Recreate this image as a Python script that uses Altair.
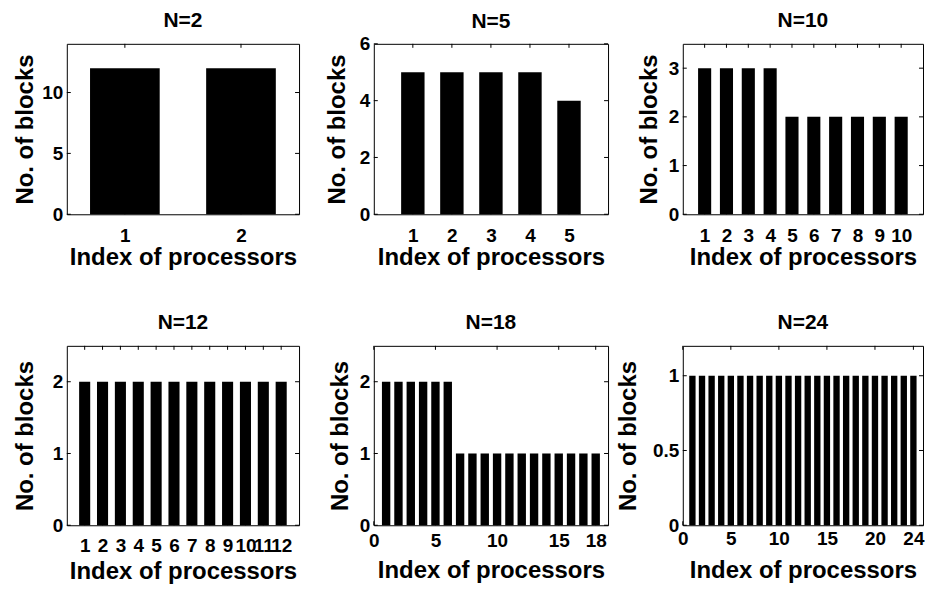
import altair as alt
import pandas as pd

# ---------------- data ----------------
panel_titles = ["N=2", "N=5", "N=10", "N=12", "N=18", "N=24"]

blocks_n2 = [12, 12]
blocks_n5 = [5, 5, 5, 5, 4]
blocks_n10 = [3, 3, 3, 3, 2, 2, 2, 2, 2, 2]
blocks_n12 = [2, 2, 2, 2, 2, 2, 2, 2, 2, 2, 2, 2]
blocks_n18 = [2, 2, 2, 2, 2, 2, 1, 1, 1, 1, 1, 1, 1, 1, 1, 1, 1, 1]
blocks_n24 = [1, 1, 1, 1, 1, 1, 1, 1, 1, 1, 1, 1, 1, 1, 1, 1, 1, 1, 1, 1, 1, 1, 1, 1]
series = [blocks_n2, blocks_n5, blocks_n10, blocks_n12, blocks_n18, blocks_n24]

x_domains = [[0.5, 2.5], [0, 6], [0, 11], [0, 13], [0, 19], [0, 25]]
y_domains = [[0, 14], [0, 6], [0, 3.5], [0, 2.5], [0, 2.5], [0, 1.2]]
x_ticks = [[1, 2], [1, 2, 3, 4, 5], [1, 2, 3, 4, 5, 6, 7, 8, 9, 10],
           [1, 2, 3, 4, 5, 6, 7, 8, 9, 10, 11, 12], [0, 5, 10, 15, 18],
           [0, 5, 10, 15, 20, 24]]
y_ticks = [[0, 5, 10], [0, 2, 4, 6], [0, 1, 2, 3], [0, 1, 2], [0, 1, 2], [0, 0.5, 1]]

x_title = "Index of processors"
y_title = "No. of blocks"

# ---------------- style ----------------
FONT = "Liberation Sans"
LABEL_FS = 19
TITLE_FS = 24
HEAD_FS = 21
col_w = [233, 235, 241]
row_h = [171, 180]
bar_w = [0.6, 0.6, 0.6, 0.62, 0.68, 0.66]
x_label_pad = [12, 12, 12, 11, 6, 4]
x_title_pad = [0, 0, 0, 4, 8, 10]
y_title_pad = [4, 10, 7, 15, 7, 12]
title_off = [-5, -14.5, -5, -5, -5, -5]
TICK = 4


def panel(k):
    vals = series[k]
    df = pd.DataFrame({"idx": list(range(1, len(vals) + 1)), "blocks": vals})
    w = col_w[k % 3]
    h = row_h[k // 3]
    xs = alt.Scale(domain=x_domains[k], nice=False, zero=False)
    ys = alt.Scale(domain=y_domains[k], nice=False)
    xa = alt.Axis(values=x_ticks[k], title=x_title, format="~r", grid=False, ticks=False,
                  tickSize=0, domain=False, labelFlush=False, labelOverlap=False,
                  minExtent=0, labelPadding=x_label_pad[k], titlePadding=x_title_pad[k])
    ya = alt.Axis(values=y_ticks[k], title=y_title, format="~r", grid=False, ticks=False,
                  tickSize=0, domain=False, labelFlush=False, labelOverlap=False,
                  minExtent=0, labelPadding=4, titlePadding=y_title_pad[k])
    half = bar_w[k] / 2

    bars = alt.Chart(df).transform_calculate(
        x0=f"datum.idx - {half}", x1=f"datum.idx + {half}"
    ).mark_bar(color="black").encode(
        x=alt.X("x0:Q", scale=xs, axis=xa),
        x2="x1:Q",
        y=alt.Y("blocks:Q", scale=ys, axis=ya),
        y2=alt.datum(0),
    )

    xt = pd.DataFrame({"t": x_ticks[k]})
    yt = pd.DataFrame({"t": y_ticks[k]})
    xb = alt.Chart(xt).mark_rule(color="black").encode(
        x=alt.X("t:Q", scale=xs, axis=xa), y=alt.value(h), y2=alt.value(h - TICK))
    xtop = alt.Chart(xt).mark_rule(color="black").encode(
        x=alt.X("t:Q", scale=xs, axis=xa), y=alt.value(0), y2=alt.value(TICK))
    yl = alt.Chart(yt).mark_rule(color="black").encode(
        y=alt.Y("t:Q", scale=ys, axis=ya), x=alt.value(0), x2=alt.value(TICK))
    yr = alt.Chart(yt).mark_rule(color="black").encode(
        y=alt.Y("t:Q", scale=ys, axis=ya), x=alt.value(w), x2=alt.value(w - TICK))

    return alt.layer(bars, xb, xtop, yl, yr).properties(
        width=w, height=h,
        title=alt.TitleParams(panel_titles[k], offset=title_off[k], baseline="alphabetic",
                              frame="group", anchor="middle", font=FONT,
                              fontSize=HEAD_FS, fontWeight="bold", color="black"),
    )


chart = alt.concat(
    *[panel(k) for k in range(6)], columns=3,
    spacing={"row": 132, "column": 75},
).properties(
    bounds="flush", align="each", padding={"left": 4, "top": 1, "right": 0, "bottom": 0},
    background="white",
).configure_view(
    stroke="black", strokeWidth=1
).configure_axis(
    labelFont=FONT, labelFontSize=LABEL_FS, labelFontWeight="bold", labelColor="black",
    titleFont=FONT, titleFontSize=TITLE_FS, titleFontWeight="bold", titleColor="black",
)

chart.save("out.html", embed_options={"renderer": "svg", "actions": False})
